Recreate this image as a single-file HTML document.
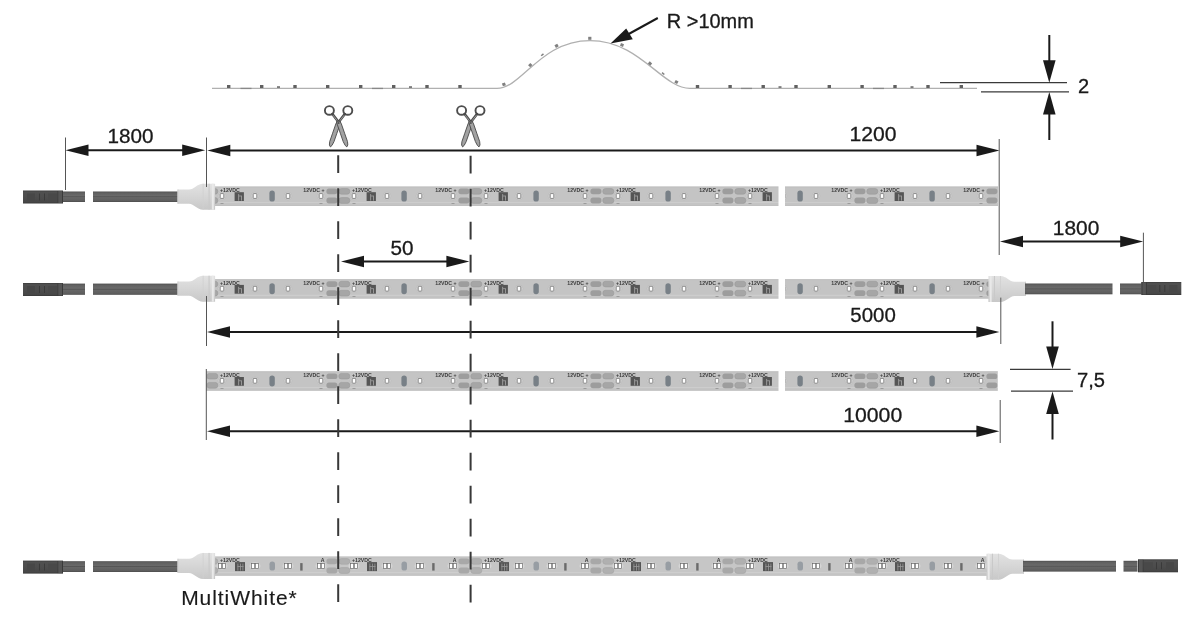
<!DOCTYPE html>
<html><head><meta charset="utf-8">
<style>
html,body{margin:0;padding:0;background:#fff;width:1200px;height:618px;overflow:hidden}
svg{display:block;will-change:transform}
text{font-family:"Liberation Sans",sans-serif;fill:#1a1a1a}
.t{font-size:20px;stroke:#1a1a1a;stroke-width:0.3}
.s{font-family:"Liberation Sans",sans-serif;font-size:5.2px;fill:#3a3a3a;font-weight:bold}
</style></head>
<body>
<svg width="1200" height="618" viewBox="0 0 1200 618">
<defs>
  <!-- one 50mm unit of strip, x=0 at cut, y=0 at strip top, height 19 -->
  <g id="u">
    <rect x="0" y="0" width="132" height="19.2" fill="#c4c4c4"/>
    <rect x="0" y="0" width="132" height="0.8" fill="#bdbdbd"/>
    <rect x="0" y="15.6" width="132" height="0.7" fill="#d2d2d2"/>
    <rect x="0" y="18.4" width="132" height="0.8" fill="#bdbdbd"/>
    <rect x="0.8" y="2" width="11" height="5.6" rx="2.6" fill="#a6a6a6" stroke="#979797" stroke-width="0.5"/>
    <rect x="0.8" y="11" width="11" height="5.8" rx="2.6" fill="#a6a6a6" stroke="#979797" stroke-width="0.5"/>
    <rect x="120.4" y="2" width="11" height="5.6" rx="2.6" fill="#9d9d9d"/>
    <rect x="120.4" y="11" width="11" height="5.8" rx="2.6" fill="#9d9d9d"/>
    <g fill="#d2d2d2" stroke="#b4b4b4" stroke-width="0.5">
      <circle cx="16" cy="9.4" r="4"/><circle cx="49" cy="9.4" r="4"/>
      <circle cx="82" cy="9.4" r="4"/><circle cx="115" cy="9.4" r="4"/>
    </g>
    <g fill="#fff" stroke="#6e6e6e" stroke-width="0.8">
      <rect x="14.2" y="7" width="3.6" height="4.8" rx="0.6"/>
      <rect x="47.2" y="7" width="3.6" height="4.8" rx="0.6"/>
      <rect x="80.2" y="7" width="3.6" height="4.8" rx="0.6"/>
      <rect x="113.2" y="7" width="3.6" height="4.8" rx="0.6"/>
    </g>
    <rect x="28.6" y="5.6" width="9.3" height="8.8" fill="#555"/>
    <rect x="32.2" y="7.5" width="0.9" height="6.5" fill="#a0a0a0"/>
    <rect x="35" y="9" width="0.9" height="5" fill="#a0a0a0"/>
    <rect x="33" y="9" width="2.2" height="0.8" fill="#a0a0a0"/>
    <rect x="63.4" y="4" width="5.4" height="11" rx="2.7" fill="#788087"/>
    <text class="s" x="14" y="5.6">+12VDC</text>
    <text class="s" x="118.5" y="5.6" text-anchor="end">12VDC +</text>
    <rect x="14.5" y="16.7" width="3" height="0.7" fill="#8a8a8a"/>
    <rect x="113.5" y="16.7" width="3" height="0.7" fill="#8a8a8a"/>
  </g>
  <!-- MultiWhite unit -->
  <g id="m">
    <rect x="0" y="0" width="132" height="19" fill="#c6c6c6"/>
    <rect x="0" y="0" width="132" height="0.8" fill="#bdbdbd"/>
    <rect x="0" y="15.5" width="132" height="0.7" fill="#d2d2d2"/>
    <rect x="0" y="18.2" width="132" height="0.8" fill="#bdbdbd"/>
    <rect x="0.8" y="2" width="11" height="5.6" rx="2.6" fill="#b0b0b0" stroke="#a0a0a0" stroke-width="0.5"/>
    <rect x="0.8" y="11" width="11" height="5.8" rx="2.6" fill="#b0b0b0" stroke="#a0a0a0" stroke-width="0.5"/>
    <rect x="120.4" y="2" width="11" height="5.6" rx="2.6" fill="#a8a8a8"/>
    <rect x="120.4" y="11" width="11" height="5.8" rx="2.6" fill="#a8a8a8"/>
    <g fill="#d6d6d6">
      <ellipse cx="16" cy="9.3" rx="5.5" ry="3.8"/><ellipse cx="49" cy="9.3" rx="5.5" ry="3.8"/>
      <ellipse cx="82" cy="9.3" rx="5.5" ry="3.8"/><ellipse cx="115" cy="9.3" rx="5.5" ry="3.8"/>
    </g>
    <g fill="#fff" stroke="#6a6a6a" stroke-width="0.7">
      <rect x="12.4" y="7" width="3.3" height="4.8"/><rect x="16.3" y="7" width="3.3" height="4.8"/>
      <rect x="45.4" y="7" width="3.3" height="4.8"/><rect x="49.3" y="7" width="3.3" height="4.8"/>
      <rect x="78.4" y="7" width="3.3" height="4.8"/><rect x="82.3" y="7" width="3.3" height="4.8"/>
      <rect x="111.4" y="7" width="3.3" height="4.8"/><rect x="115.3" y="7" width="3.3" height="4.8"/>
    </g>
    <rect x="29" y="5.5" width="10" height="9" fill="#555"/>
    <rect x="31.5" y="7" width="0.8" height="7" fill="#9a9a9a"/>
    <rect x="34" y="7" width="0.8" height="7" fill="#9a9a9a"/>
    <rect x="36.5" y="7" width="0.8" height="7" fill="#9a9a9a"/>
    <rect x="31.5" y="9.5" width="6" height="0.8" fill="#9a9a9a"/>
    <rect x="63.5" y="5" width="5.5" height="9" rx="2.7" fill="#979da3"/>
    <rect x="94.2" y="6.5" width="2.4" height="7.5" fill="#6a6a6a"/>
    <text class="s" x="14" y="5.6">+12VDC</text>
    <text class="s" x="118.5" y="5.6" text-anchor="end">A</text>
  </g>
  <!-- left end cap, origin at left edge, centred vertically -->
  <linearGradient id="gcap" x1="0" y1="0" x2="0" y2="1">
    <stop offset="0" stop-color="#e2e2e2"/><stop offset="0.45" stop-color="#d7d7d7"/><stop offset="1" stop-color="#c8c8c8"/>
  </linearGradient>
  <linearGradient id="gcab" x1="0" y1="0" x2="0" y2="1">
    <stop offset="0" stop-color="#4c4c4c"/><stop offset="0.12" stop-color="#606060"/><stop offset="0.42" stop-color="#6a6a6a"/>
    <stop offset="0.5" stop-color="#535353"/><stop offset="0.58" stop-color="#666"/><stop offset="0.88" stop-color="#5e5e5e"/><stop offset="1" stop-color="#4a4a4a"/>
  </linearGradient>
  <linearGradient id="gcon" x1="0" y1="0" x2="0" y2="1">
    <stop offset="0" stop-color="#3c3c3c"/><stop offset="0.12" stop-color="#505050"/><stop offset="0.5" stop-color="#4d4d4d"/><stop offset="0.88" stop-color="#474747"/><stop offset="1" stop-color="#383838"/>
  </linearGradient>
  <g id="capL">
    <path d="M0,-7.1 L11.5,-7.1 C16.5,-7.1 19.5,-12.9 25.5,-12.9 L37.6,-12.9 L37.6,13.1 L25.5,13.1 C19.5,13.1 16.5,7.1 11.5,7.1 L0,7.1 Z" fill="url(#gcap)"/>
    <rect x="0" y="-7.1" width="1" height="14.2" fill="#cecece"/>
    <rect x="25.2" y="-12.9" width="0.8" height="26" fill="#d0d0d0"/>
    <rect x="31" y="-12.9" width="1.1" height="26" fill="#c9c9c9"/>
    <rect x="34.3" y="-12.9" width="2" height="26" fill="#e9e9e9"/>
  </g>
  <g id="conn">
    <rect x="0" y="-6.5" width="40" height="13" fill="url(#gcon)"/>
    <rect x="4" y="-3.5" width="8" height="7" fill="#474747"/>
    <rect x="16" y="-3.5" width="1" height="7" fill="#3a3a3a"/>
    <rect x="21" y="-3.5" width="1" height="7" fill="#3a3a3a"/>
    <rect x="25" y="-3.5" width="9" height="7" fill="#494949"/>
    <rect x="34.5" y="-6" width="0.9" height="12" fill="#3a3a3a"/>
    <rect x="35.4" y="-6" width="3.6" height="12" fill="#555"/>
    <rect x="39" y="-6" width="1" height="12" fill="#3a3a3a"/>
  </g>
  <g id="scis">
    <g fill="none" stroke="#4d4d4d" stroke-width="1.9">
      <ellipse cx="-9.2" cy="110.4" rx="4.5" ry="4.3"/>
      <ellipse cx="9.2" cy="110.4" rx="4.5" ry="4.3"/>
    </g>
    <g stroke="#4a4a4a" stroke-width="2.6" stroke-linecap="round">
      <line x1="-6.2" y1="114" x2="-0.3" y2="121.8"/>
      <line x1="6.2" y1="114" x2="0.3" y2="121.8"/>
    </g>
    <g stroke="#a2a2a2" stroke-width="0.9">
      <line x1="-5.6" y1="115.2" x2="-0.6" y2="121.6"/>
      <line x1="5.6" y1="115.2" x2="0.6" y2="121.6"/>
    </g>
    <g fill="#a2a2a2" stroke="#474747" stroke-width="0.9" stroke-linejoin="round">
      <path d="M1.9,121.2 L1.5,124 L-1.9,133.8 L-4.6,141.6 L-6.6,145.4 L-8.2,146.9 L-9.2,145 L-8.9,141.6 L-6.2,133.8 L-2.8,124 L-1.4,121.2 Z"/>
      <path d="M-1.9,121.2 L-1.5,124 L1.9,133.8 L4.6,141.6 L6.6,145.4 L8.2,146.9 L9.2,145 L8.9,141.6 L6.2,133.8 L2.8,124 L1.4,121.2 Z"/>
    </g>
    <circle cx="0" cy="123" r="1.1" fill="#555"/>
  </g>
  <path id="ahR" d="M0,0 L-23,-5.8 L-23,5.8 Z"/>
  <path id="ahL" d="M0,0 L23,-5.8 L23,5.8 Z"/>
  <path id="ahD" d="M0,0 L-6.3,-22.5 L6.3,-22.5 Z"/>
  <path id="ahU" d="M0,0 L-6.3,22.5 L6.3,22.5 Z"/>
</defs>

<!-- ===== top flex strip ===== -->
<g fill="none" stroke="#b0b0b0" stroke-width="1.3">
  <path d="M212,88.4 L497,88.4 C522,88.4 540,40.6 590,40.6 C640,40.6 662,88.4 690,88.4 L977,88.4"/>
</g>
<g fill="#888">
  <rect x="240.5" y="87.8" width="11" height="1.3"/><rect x="372" y="87.8" width="11" height="1.3"/>
  <rect x="741" y="87.8" width="11" height="1.3"/><rect x="873" y="87.8" width="11" height="1.3"/>
</g>
<g fill="#606060">
  <rect x="227" y="85" width="3.4" height="3"/><rect x="260" y="85" width="3.4" height="3"/>
  <rect x="293.3" y="85" width="3.4" height="3"/><rect x="326" y="85" width="3.4" height="3"/>
  <rect x="359" y="85" width="3.4" height="3"/><rect x="392" y="85" width="3.4" height="3"/>
  <rect x="425.3" y="85" width="3.4" height="3"/><rect x="458.3" y="85" width="3.4" height="3"/>
  <rect x="695.8" y="85" width="3.4" height="3"/><rect x="728.4" y="85" width="3.4" height="3"/>
  <rect x="761.5" y="85" width="3.4" height="3"/><rect x="794.3" y="85" width="3.4" height="3"/>
  <rect x="827.6" y="85" width="3.4" height="3"/><rect x="860.4" y="85" width="3.4" height="3"/>
  <rect x="893.3" y="85" width="3.4" height="3"/><rect x="926.3" y="85" width="3.4" height="3"/>
  <rect x="959.6" y="85" width="3.4" height="3"/>
  <rect x="277" y="86.3" width="3" height="1.5"/><rect x="409" y="86.3" width="3" height="1.5"/>
  <rect x="778.5" y="86.3" width="3" height="1.5"/><rect x="910.5" y="86.3" width="3" height="1.5"/>
</g>
<g fill="#808080">
  <!-- curve dots -->
  <rect x="502.3" y="82.8" width="3.2" height="3" transform="rotate(-20 504 84.3)"/>
  <rect x="528.6" y="63.6" width="3.2" height="3" transform="rotate(-45 530.2 65)"/>
  <rect x="541" y="54" width="3" height="1.5" transform="rotate(-40 542.5 55)"/>
  <rect x="555" y="44.3" width="3.2" height="3" transform="rotate(-30 556.6 45.8)"/>
  <rect x="588.2" y="36.8" width="3.2" height="3"/>
  <rect x="620.4" y="43.5" width="3.2" height="3" transform="rotate(20 622 45)"/>
  <rect x="648.4" y="62" width="3.2" height="3" transform="rotate(40 650 63.5)"/>
  <rect x="661.7" y="72.8" width="3" height="1.5" transform="rotate(40 663.2 73.5)"/>
  <rect x="674.8" y="80.5" width="3.2" height="3" transform="rotate(30 676.4 82)"/>
</g>

<!-- R >10mm -->
<line x1="657.8" y1="18" x2="626" y2="35.5" stroke="#1a1a1a" stroke-width="2"/>
<path d="M610.5,43.6 L626.2,28.6 L632.8,39.2 Z" fill="#1a1a1a"/>
<text class="t" x="666.8" y="27.8" textLength="87" lengthAdjust="spacingAndGlyphs">R &gt;10mm</text>

<!-- 2 mm thickness -->
<g stroke="#3a3a3a" stroke-width="1.2">
  <line x1="940" y1="82.7" x2="1067" y2="82.7"/>
  <line x1="981" y1="91.9" x2="1069" y2="91.9"/>
</g>
<g stroke="#1a1a1a" stroke-width="2">
  <line x1="1049.3" y1="35" x2="1049.3" y2="62"/>
  <line x1="1049.3" y1="112" x2="1049.3" y2="140"/>
</g>
<g fill="#1a1a1a">
  <use href="#ahD" x="1049.3" y="82.7"/>
  <use href="#ahU" x="1049.3" y="92"/>
</g>
<text class="t" x="1078" y="92.5">2</text>

<!-- scissors -->
<use href="#scis" x="338.6" y="0"/>
<use href="#scis" x="470.8" y="0"/>

<!-- ===== dimension 1800 / 1200 (row 1) ===== -->
<g stroke="#1a1a1a" stroke-width="2">
  <line x1="80" y1="150.3" x2="190" y2="150.3"/>
  <line x1="222" y1="150.5" x2="985" y2="150.5"/>
</g>
<g fill="#1a1a1a">
  <use href="#ahL" x="65.5" y="150.3"/>
  <use href="#ahR" x="205.2" y="150.3"/>
  <use href="#ahL" x="207.3" y="150.5"/>
  <use href="#ahR" x="999.5" y="150.5"/>
</g>
<text class="t" x="107.5" y="142.8" textLength="46" lengthAdjust="spacingAndGlyphs">1800</text>
<text class="t" x="849.5" y="140.8" textLength="47" lengthAdjust="spacingAndGlyphs">1200</text>

<!-- ===== Row 1 ===== -->
<use href="#conn" x="23" y="197"/>
<rect x="63" y="191.5" width="22" height="10.5" fill="url(#gcab)"/>
<rect x="93" y="191.5" width="86" height="10.5" fill="url(#gcab)"/>
<g>
  <use href="#u" x="206" y="186.6"/>
  <use href="#u" x="338" y="186.6"/>
  <use href="#u" x="470" y="186.6"/>
  <use href="#u" x="602" y="186.6"/>
  <use href="#u" x="734" y="186.6"/>
  <use href="#u" x="866" y="186.6"/>
  <rect x="778.5" y="185" width="6.5" height="23" fill="#fff"/>
</g>
<use href="#capL" x="177.5" y="196.6"/>

<!-- dim 1800 right & 50 -->
<g stroke="#1a1a1a" stroke-width="2">
  <line x1="1015" y1="241.5" x2="1128" y2="241.5"/>
  <line x1="355" y1="261.5" x2="455" y2="261.5"/>
</g>
<g fill="#1a1a1a">
  <use href="#ahL" x="1000" y="241.5"/>
  <use href="#ahR" x="1143.2" y="241.5"/>
  <use href="#ahL" x="341" y="261.5"/>
  <use href="#ahR" x="469.4" y="261.5"/>
</g>
<text class="t" x="1052.8" y="235.3" textLength="46.5" lengthAdjust="spacingAndGlyphs">1800</text>
<text class="t" x="390.5" y="254.7" textLength="23" lengthAdjust="spacingAndGlyphs">50</text>

<!-- ===== Row 2 ===== -->
<use href="#conn" x="23" y="289.5"/>
<rect x="63" y="283.6" width="22" height="11.2" fill="url(#gcab)"/>
<rect x="93" y="283.6" width="86" height="11.2" fill="url(#gcab)"/>
<g>
  <use href="#u" x="206" y="279.3"/>
  <use href="#u" x="338" y="279.3"/>
  <use href="#u" x="470" y="279.3"/>
  <use href="#u" x="602" y="279.3"/>
  <use href="#u" x="734" y="279.3"/>
  <use href="#u" x="866" y="279.3"/>
  <rect x="778.5" y="277" width="6.5" height="24" fill="#fff"/>
</g>
<use href="#capL" x="177.5" y="288.6"/>
<use href="#capL" transform="translate(1026,288.9) scale(-1,1)"/>
<rect x="1025" y="283.5" width="87.5" height="10.8" fill="url(#gcab)"/>
<rect x="1120" y="283.5" width="21" height="10.8" fill="url(#gcab)"/>
<use href="#conn" transform="translate(1181.3,288.5) scale(-1,1)"/>

<!-- dim 5000 -->
<g stroke="#1a1a1a" stroke-width="2"><line x1="222" y1="332" x2="985" y2="332"/></g>
<g fill="#1a1a1a">
  <use href="#ahL" x="207" y="332"/>
  <use href="#ahR" x="999.4" y="332"/>
</g>
<text class="t" x="850.3" y="321.8" textLength="45.5" lengthAdjust="spacingAndGlyphs">5000</text>

<!-- ===== Row 3 ===== -->
<g>
  <use href="#u" x="206" y="371.4"/>
  <use href="#u" x="338" y="371.4"/>
  <use href="#u" x="470" y="371.4"/>
  <use href="#u" x="602" y="371.4"/>
  <use href="#u" x="734" y="371.4"/>
  <use href="#u" x="866" y="371.4"/>
  <rect x="778.5" y="369" width="6.5" height="24" fill="#fff"/>
  <rect x="997.8" y="369" width="4" height="24" fill="#fff"/>
</g>

<!-- 7,5 -->
<g stroke="#3a3a3a" stroke-width="1.2">
  <line x1="1010" y1="369.3" x2="1070.6" y2="369.3"/>
  <line x1="1011" y1="391.2" x2="1073" y2="391.2"/>
</g>
<g stroke="#1a1a1a" stroke-width="2">
  <line x1="1052.5" y1="321.3" x2="1052.5" y2="350"/>
  <line x1="1052.5" y1="410" x2="1052.5" y2="439.5"/>
</g>
<g fill="#1a1a1a">
  <use href="#ahD" x="1052.5" y="369"/>
  <use href="#ahU" x="1052.5" y="391.5"/>
</g>
<text class="t" x="1077" y="386.6" textLength="28" lengthAdjust="spacingAndGlyphs">7,5</text>

<!-- dim 10000 -->
<g stroke="#1a1a1a" stroke-width="2"><line x1="222" y1="431.2" x2="985" y2="431.2"/></g>
<g fill="#1a1a1a">
  <use href="#ahL" x="207" y="431.2"/>
  <use href="#ahR" x="999.4" y="431.2"/>
</g>
<text class="t" x="843.2" y="421.7" textLength="59" lengthAdjust="spacingAndGlyphs">10000</text>

<!-- ===== Row 4 (MultiWhite) ===== -->
<use href="#conn" x="23" y="567.1"/>
<rect x="63" y="561.2" width="22" height="10.8" fill="url(#gcab)"/>
<rect x="93" y="561.2" width="86" height="10.8" fill="url(#gcab)"/>
<g>
  <use href="#m" x="206" y="556.6"/>
  <use href="#m" x="338" y="556.6"/>
  <use href="#m" x="470" y="556.6"/>
  <use href="#m" x="602" y="556.6"/>
  <use href="#m" x="734" y="556.6"/>
  <use href="#m" x="866" y="556.6"/>
</g>
<use href="#capL" x="177.5" y="565.8"/>
<use href="#capL" transform="translate(1024,566.6) scale(-1,1)"/>
<rect x="1023" y="560.8" width="93" height="10.8" fill="url(#gcab)"/>
<rect x="1123.5" y="560.8" width="14" height="10.8" fill="url(#gcab)"/>
<use href="#conn" transform="translate(1178,565.8) scale(-1,1)"/>

<text class="t" x="181.2" y="605.1" style="font-size:21px;stroke-width:0.15" textLength="115.5" lengthAdjust="spacing">MultiWhite*</text>

<!-- extension lines -->
<g stroke="#555" stroke-width="1">
  <line x1="65.5" y1="137.5" x2="65.5" y2="190"/>
  <line x1="206.5" y1="137.5" x2="206.5" y2="187"/>
  <line x1="999.2" y1="139" x2="999.2" y2="255"/>
  <line x1="1143.4" y1="232.7" x2="1143.4" y2="282"/>
  <line x1="206.5" y1="296" x2="206.5" y2="346"/>
  <line x1="1000.8" y1="297.6" x2="1000.8" y2="344"/>
  <line x1="206.3" y1="369" x2="206.3" y2="440"/>
  <line x1="1000.2" y1="400" x2="1000.2" y2="443"/>
</g>

<!-- dashed cut lines -->
<g stroke="#383838" stroke-width="2" stroke-dasharray="17.8 15.2">
  <line x1="338.2" y1="155.3" x2="338.2" y2="602.5"/>
  <line x1="470.6" y1="155.8" x2="470.6" y2="603"/>
</g>
</svg>
</body></html>
